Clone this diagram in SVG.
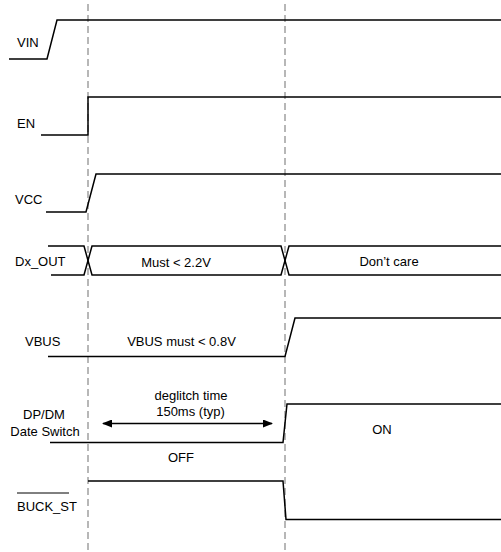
<svg xmlns="http://www.w3.org/2000/svg" width="501" height="552" viewBox="0 0 501 552">
<style>
.sig{fill:none;stroke:#000;stroke-width:1.5;stroke-linejoin:miter}
.dash{fill:none;stroke:#a0a0a0;stroke-width:1.5;stroke-dasharray:7,4}
text{font-family:"Liberation Sans",Arial,sans-serif;font-size:13px;fill:#000}
.c{text-anchor:middle}
</style>
<defs>
<marker id="ah" markerWidth="10" markerHeight="8" refX="9" refY="4" orient="auto-start-reverse" markerUnits="userSpaceOnUse">
<path d="M0,0 L10,4 L0,8 Z" fill="#000"/>
</marker>
</defs>
<rect width="501" height="552" fill="#fff"/>
<g id="guides">
<line class="dash" x1="88" y1="4" x2="88" y2="550"/>
<line class="dash" x1="285" y1="4" x2="285" y2="550"/>
</g>
<g id="VIN">
<text x="17" y="46.5">VIN</text>
<path class="sig" d="M9,59 L47,59 L57,20 L501,20"/>
</g>
<g id="EN">
<text x="17" y="127.5">EN</text>
<path class="sig" d="M41,135 L88,135 L88,97 L501,97"/>
</g>
<g id="VCC">
<text x="15" y="203.5">VCC</text>
<path class="sig" d="M46,212 L86,212 L96,174 L501,174"/>
</g>
<g id="Dx_OUT">
<text x="15" y="265.5">Dx_OUT</text>
<path class="sig" d="M48,246 L84,246 L92,275 L281,275 L289,246 L501,246"/>
<path class="sig" d="M51,275 L84,275 L92,246 L281,246 L289,275 L501,275"/>
<text class="c" x="176" y="266.5">Must &lt; 2.2V</text>
<text class="c" x="389" y="265.5">Don’t care</text>
</g>
<g id="VBUS">
<text x="25" y="345.5">VBUS</text>
<path class="sig" d="M48,356.5 L285,356.5 L295,318 L501,318"/>
<text class="c" x="181.5" y="345.5">VBUS must &lt; 0.8V</text>
</g>
<g id="DPDM">
<text class="c" x="44" y="418.5">DP/DM</text>
<text class="c" x="45" y="435.5">Date Switch</text>
<path class="sig" d="M50,442.5 L283,442.5 L287,404 L501,404"/>
<text class="c" x="191" y="400">deglitch time</text>
<text class="c" x="190.5" y="416">150ms (typ)</text>
<text class="c" x="181" y="462">OFF</text>
<text class="c" x="382" y="433.5">ON</text>
</g>
<g id="BUCK_ST">
<text x="17" y="510.5">BUCK_ST</text>
<line x1="17" y1="493" x2="69" y2="493" stroke="#000" stroke-width="1"/>
<path class="sig" d="M88,481 L283,481 L286,519.5 L501,519.5"/>
</g>
<g id="connectors">
<line x1="103" y1="423.5" x2="272" y2="423.5" stroke="#000" stroke-width="1.5" marker-start="url(#ah)" marker-end="url(#ah)"/>
</g>
</svg>
